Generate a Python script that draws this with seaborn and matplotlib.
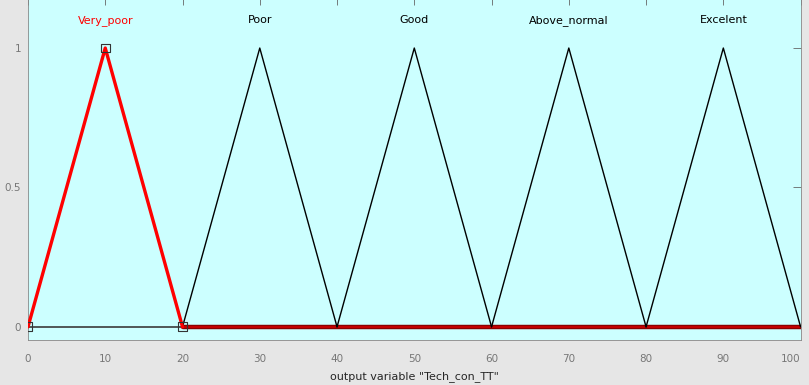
import matplotlib
matplotlib.use("Agg")
import matplotlib.pyplot as plt
import seaborn as sns
import pandas as pd

# membership functions of output variable "Tech_con_TT" (triangles a, b, c)
mf_names = ["Very_poor", "Poor", "Good", "Above_normal", "Excelent"]
mf_a = [0, 20, 40, 60, 80]
mf_b = [10, 30, 50, 70, 90]
mf_c = [20, 40, 60, 80, 100]
x_range = [0, 100]
x_ticks = [0, 10, 20, 30, 40, 50, 60, 70, 80, 90, 100]
y_ticks = [0, 0.5, 1]
y_tick_labels = ["0", "0.5", "1"]
selected = 0  # highlighted MF (Very_poor)

sns.set_style("white")
plt.rcParams["font.family"] = ["Liberation Sans Narrow", "DejaVu Sans"]

rows = []
for name, a, b, c in zip(mf_names, mf_a, mf_b, mf_c):
    for x, y in [(a, 0), (b, 1), (c, 0)]:
        rows.append({"mf": name, "x": x, "y": y})
df = pd.DataFrame(rows)

fig = plt.figure(figsize=(8.09, 3.85), dpi=100)
fig.patch.set_facecolor("#e6e6e6")
ax = fig.add_axes([0.0346, 0.117, 0.955, 0.885])
ax.set_facecolor("#ccffff")

# baseline: dark under the highlighted MF, red beyond it
sel_c = mf_c[selected]
ax.plot([x_range[0], sel_c], [0, 0], color="#3a3a3a", lw=1.2, zorder=2)
ax.plot([sel_c, x_range[1]], [0, 0], color="#8b0000", lw=3.2, zorder=2)
ax.plot([sel_c, x_range[1]], [0, 0], color="#cc0000", lw=1.2, zorder=2)

others = df[df["mf"] != mf_names[selected]]
sns.lineplot(data=others, x="x", y="y", units="mf", estimator=None,
             color="black", lw=1.0, sort=False, ax=ax, zorder=3)
sel = df[df["mf"] == mf_names[selected]]
sns.lineplot(data=sel, x="x", y="y", estimator=None, color="red",
             lw=2.4, sort=False, ax=ax, zorder=4)
ax.scatter(sel["x"], sel["y"], marker="s", s=40, facecolors="none",
           edgecolors="#333333", linewidths=0.8, zorder=5)

for i, (name, b) in enumerate(zip(mf_names, mf_b)):
    ax.text(b, 1.1, name, ha="center", va="center", fontsize=8,
            color="red" if i == selected else "black")

ax.set_xlim(x_range[0], x_range[1])
ax.set_ylim(-0.047, 1.175)
ax.set_xticks(x_ticks)
ax.set_yticks(y_ticks)
ax.set_yticklabels(y_tick_labels)
ax.tick_params(direction="in", width=0.6, color="#666666",
               labelsize=7.5, labelcolor="#777777", top=True, right=True)
ax.tick_params(axis="x", length=11, pad=10)
ax.tick_params(axis="y", length=6, pad=5)
# short ticks along top edge, like the MATLAB frame
for t in ax.xaxis.get_major_ticks():
    t.tick2line.set_markersize(4)
# keep the last tick label inside the figure
ax.get_xticklabels()[-1].set_horizontalalignment("right")
ax.get_xticklabels()[-1].set_x(x_range[1])
ax.set_xlabel('output variable "Tech_con_TT"', fontsize=8, labelpad=5)
ax.set_ylabel("")
for s in ax.spines.values():
    s.set_color("#888888")
    s.set_linewidth(0.6)

fig.savefig("out.png", dpi=100, facecolor=fig.get_facecolor())
